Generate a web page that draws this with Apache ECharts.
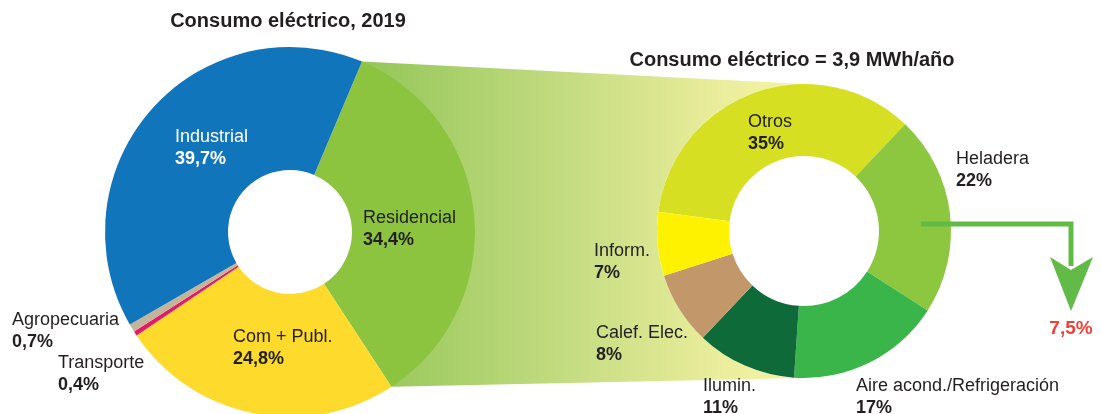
<!DOCTYPE html>
<html>
<head>
<meta charset="utf-8">
<script src="https://cdn.jsdelivr.net/npm/echarts@6/dist/echarts.min.js"></script>
<style>
  html, body { margin: 0; padding: 0; background: #ffffff; }
  #chart { width: 1101px; height: 414px; }
</style>
</head>
<body>
<div id="chart"></div>
<script>
// Consumo eléctrico por sector, 2019 (%)
const sectorNames = ['Residencial', 'Com + Publ.', 'Transporte', 'Agropecuaria', 'Industrial'];
const sectorValues = [34.4, 24.8, 0.4, 0.7, 39.7];
const sectorColors = ['#8CC43F', '#FDDA2B', '#E5196B', '#C4B49A', '#1175BC'];

// Consumo residencial por uso (%)
const usoNames = ['Otros', 'Heladera', 'Aire acond./Refrigeración', 'Ilumin.', 'Calef. Elec.', 'Inform.'];
const usoValues = [35, 22, 17, 11, 8, 7];
const usoColors = ['#D7DF23', '#8DC63F', '#39B54A', '#0F6A3A', '#C2976A', '#FFF200'];

const tituloSector = 'Consumo eléctrico, 2019';
const tituloUso = 'Consumo eléctrico = 3,9 MWh/año';
const ahorroHeladera = '7,5%';

// ---- layout ----
const TEXT = '#231F20';
const FONT = '"Liberation Sans", Arial, sans-serif';
const leftPie = { cx: 290, cy: 232, r0: 62, r1: 185, start: 67.1 };
const rightPie = { cx: 804, cy: 231, r0: 75, r1: 147, start: 172.5 };

// top-left anchor (x, centre of first line) of each slice label
const labelAnchors = {
  'Industrial': [175, 137],
  'Residencial': [363, 218],
  'Com + Publ.': [233, 337],
  'Agropecuaria': [12, 320],
  'Transporte': [58, 363],
  'Otros': [748, 122],
  'Heladera': [956, 159],
  'Aire acond./Refrigeración': [856, 386],
  'Ilumin.': [703, 386],
  'Calef. Elec.': [596, 333],
  'Inform.': [594, 251]
};
const LINE_H = 22;

function fmt(v) { return String(v).replace('.', ','); }

function pieSeries(p, names, values, colors, lightLabels) {
  return {
    type: 'pie',
    z: 2,
    center: [p.cx, p.cy],
    radius: [p.r0, p.r1],
    startAngle: p.start,
    clockwise: true,
    avoidLabelOverlap: false,
    silent: true,
    data: names.map((n, i) => ({
      name: n,
      value: values[i],
      itemStyle: { color: colors[i] },
      label: { color: lightLabels.indexOf(n) >= 0 ? '#ffffff' : TEXT }
    })),
    label: {
      show: true,
      position: 'inside',
      formatter: (d) => '{n|' + d.name + '}\n{v|' + fmt(d.value) + '%}',
      rich: {
        n: { fontFamily: FONT, fontSize: 18, fontWeight: 'normal', lineHeight: LINE_H },
        v: { fontFamily: FONT, fontSize: 18, fontWeight: 'bold', lineHeight: LINE_H }
      }
    },
    labelLine: { show: false },
    labelLayout: (params) => {
      const a = labelAnchors[names[params.dataIndex]];
      return { x: a[0], y: a[1] - LINE_H / 2, align: 'left', verticalAlign: 'top' };
    }
  };
}

// point on a circle, angle in degrees clockwise from 12 o'clock
function polar(cx, cy, r, deg) {
  const t = deg * Math.PI / 180;
  return [cx + r * Math.sin(t), cy - r * Math.cos(t)];
}

// band joining the Residencial slice to the outer edge of the right ring
const total = sectorValues.reduce((a, b) => a + b, 0);
const resStart = 90 - leftPie.start;
const resEnd = resStart + 360 * sectorValues[0] / total;
const funnel = [polar(leftPie.cx, leftPie.cy, leftPie.r1, resStart)];
for (let d = 360; d >= 180; d -= 3) {
  funnel.push(polar(rightPie.cx, rightPie.cy, rightPie.r1, d));
}
funnel.push(polar(leftPie.cx, leftPie.cy, leftPie.r1, resEnd));

// arrow leaving the Heladera ring
const ay = rightPie.cy - 7;
const ax0 = rightPie.cx + 117;
const ax1 = rightPie.cx + 267;
const arrowColor = '#62BB46';

const chart = echarts.init(document.getElementById('chart'), null, { renderer: 'canvas' });
chart.setOption({
  animation: false,
  backgroundColor: '#ffffff',
  series: [
    pieSeries(leftPie, sectorNames, sectorValues, sectorColors, ['Industrial']),
    pieSeries(rightPie, usoNames, usoValues, usoColors, [])
  ],
  graphic: [
    {
      type: 'polygon', z: 0, silent: true,
      shape: { points: funnel },
      style: {
        fill: new echarts.graphic.LinearGradient(0, 0, 1, 0, [
          { offset: 0, color: '#93C658' },
          { offset: 0.45, color: '#C3DB80' },
          { offset: 0.8, color: '#E9ED9B' },
          { offset: 1, color: '#F6F3A6' }
        ])
      }
    },
    {
      type: 'polyline', z: 10, silent: true,
      shape: { points: [[ax0, ay], [ax1, ay], [ax1, ay + 42]] },
      style: { stroke: arrowColor, lineWidth: 5, fill: null, lineJoin: 'miter' }
    },
    {
      type: 'polygon', z: 10, silent: true,
      shape: { points: [[ax1 - 21, ay + 33], [ax1, ay + 46], [ax1 + 22, ay + 33], [ax1, ay + 87]] },
      style: { fill: arrowColor }
    },
    {
      type: 'text', z: 10, silent: true,
      style: {
        text: ahorroHeladera, x: ax1, y: ay + 105,
        align: 'center', verticalAlign: 'middle',
        font: 'bold 19px ' + FONT, fill: '#EF4136'
      }
    },
    {
      type: 'text', z: 10, silent: true,
      style: {
        text: tituloSector, x: 288, y: 21,
        align: 'center', verticalAlign: 'middle',
        font: 'bold 20px ' + FONT, fill: TEXT
      }
    },
    {
      type: 'text', z: 10, silent: true,
      style: {
        text: tituloUso, x: 792, y: 60,
        align: 'center', verticalAlign: 'middle',
        font: 'bold 20px ' + FONT, fill: TEXT
      }
    }
  ]
});
</script>
</body>
</html>
